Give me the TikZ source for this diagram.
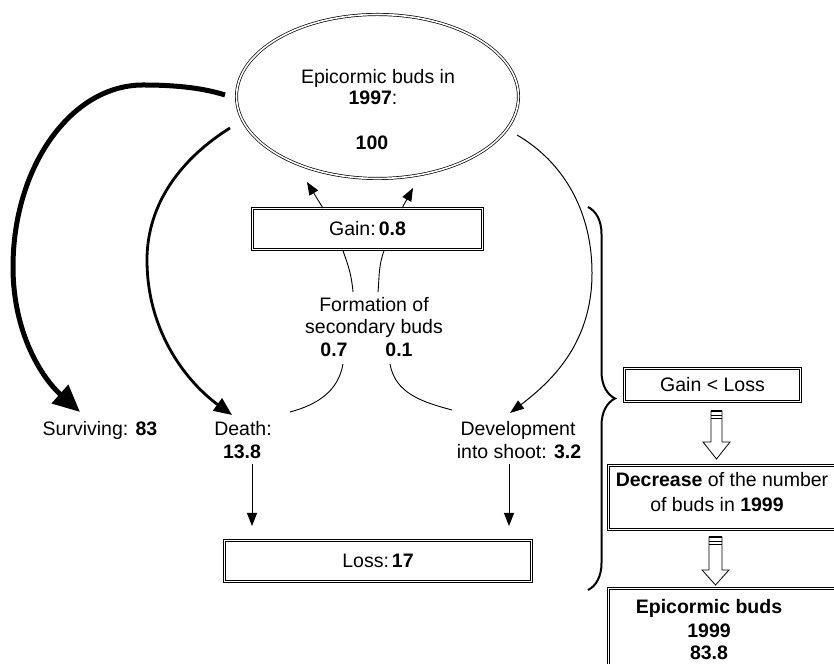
\documentclass[tikz,border=0pt]{standalone}
\usepackage{fontspec}
\setmainfont{Liberation Sans}
\usetikzlibrary{arrows.meta,calc,decorations.pathreplacing,shapes.geometric}
\begin{document}
\begin{tikzpicture}[x=1pt,y=1pt,
  font=\fontsize{19.5}{22.5}\selectfont,
  txt/.style={inner sep=0pt,text height=14pt,text depth=0pt},
  dline/.style={draw,line width=0.7pt,double,double distance=1.6pt},
  dbox/.style={dline,rectangle,inner sep=0pt,text height=14pt,text depth=0pt},
  thinarrow/.style={line width=0.9pt,-{Triangle[length=13pt,width=10pt]}},
  hollow/.style={draw,line width=0.8pt,fill=white},
]
\useasboundingbox (0,0) rectangle (834,663);

% top ellipse
\node[ellipse,dline,minimum width=282pt,minimum height=164pt,inner sep=0pt] (E) at (377.5,566.5) {};
\node[txt] (e1) at (378,586) {Epicormic buds in};
\node[txt] (e2) at (373,565) {\textbf{1997}:};
\node[txt] (e3) at (372,520) {\textbf{100}};

% gain / loss boxes
\node[dbox,minimum width=230pt,minimum height=41pt] (G) at (367.5,434) {Gain:\hspace{3pt}\textbf{0.8}};
\node[dbox,minimum width=307pt,minimum height=41pt] (L) at (378,102) {Loss:\hspace{3pt}\textbf{17}};

% labels
\node[txt] (surv) at (100,234) {Surviving: \textbf{83}};
\node[txt] (d1) at (243,234) {Death:};
\node[txt] (d2) at (242,211) {\textbf{13.8}};
\node[txt] (v1) at (518,234) {Development};
\node[txt] (v2) at (519,211) {into shoot: \textbf{3.2}};
\node[txt] (f1) at (374,358) {Formation of};
\node[txt] (f2) at (374,336) {secondary buds};
\node[txt] (n07) at (334,313) {\textbf{0.7}};
\node[txt] (n01) at (399,313) {\textbf{0.1}};

% right column
\node[dbox,minimum width=176pt,minimum height=33pt] (GL) at (712.5,278) {Gain < Loss};
\node[dbox,minimum width=231pt,minimum height=64pt] (DEC) at (724,165.5) {};
\node[txt] (dec1) at (722,183) {\textbf{Decrease} of the number};
\node[txt] (dec2) at (717,158) {of buds in \textbf{1999}};
\node[dbox,minimum width=231pt,minimum height=115pt] (B99) at (724,17) {};
\node[txt] (b1) at (709,56) {\textbf{Epicormic buds}};
\node[txt] (b2) at (709,33) {\textbf{1999}};
\node[txt] (b3) at (709,11) {\textbf{83.8}};

% coordinates for free ends
\coordinate (sS) at ($(E.center)+(-152.5,1.5)$);
\coordinate (sD) at ($(E.center)+(-147.5,-31.5)$);
\coordinate (sV) at ($(E.center)+(139.5,-38.5)$);
\coordinate (tS) at (80,251);
\coordinate (tD) at (232,248);
\coordinate (tV) at (510,250);
\coordinate (gA) at ($(G.north)+(-44.5,0)$);
\coordinate (gB) at ($(G.north)+(34.5,0)$);
\coordinate (gAt) at (307,481);
\coordinate (gBt) at (413,475);
\coordinate (fA) at (353,371);
\coordinate (fB) at (378,371);
\coordinate (fAt) at ($(G.south)+(-24.5,-1)$);
\coordinate (fBt) at ($(G.south)+(16.5,-1)$);
\coordinate (lA) at (343,299);
\coordinate (lAt) at (290,251);
\coordinate (lB) at (390,299);
\coordinate (lBt) at (452,253);
\coordinate (dA) at (252,199);
\coordinate (dB) at (252,137);
\coordinate (vA) at (509,199);
\coordinate (vB) at (509,137);
\coordinate (brT) at (588,456);
\coordinate (brB) at (588,73);

% surviving (thick)
\draw[line width=5pt,-{Triangle[length=27pt,width=24pt]}]
  (sS) .. controls (200,576) and (170,578) .. (143,578)
       .. controls (71,578) and (13,496) .. (13,396)
       .. controls (13,330) and (42,285) .. (tS);
% death
\draw[line width=2.8pt,-{Triangle[length=18pt,width=15pt]}]
  (sD) .. controls (182,505) and (147,460) .. (147,403)
       .. controls (147,330) and (188,280) .. (tD);
% development
\draw[line width=1pt,-{Triangle[length=14pt,width=10pt]}]
  (sV) .. controls (565,500) and (592,450) .. (592,390)
       .. controls (592,320) and (552,282) .. (tV);

% gain arrows
\draw[thinarrow] (gA) -- (gAt);
\draw[thinarrow] (gB) -- (gBt);
\draw[line width=0.9pt] (fA) to[out=95,in=-70] (fAt);
\draw[line width=0.9pt] (fB) to[out=85,in=-110] (fBt);
\draw[line width=0.9pt] (lA) to[out=-100,in=15] (lAt);
\draw[line width=0.9pt] (lB) to[out=-80,in=165] (lBt);

% loss arrows
\draw[thinarrow] (dA) -- (dB);
\draw[thinarrow] (vA) -- (vB);

% brace
\draw[line width=2pt,decorate,decoration={brace,amplitude=27pt}] (brT) -- (brB);

% hollow arrows
\draw[hollow] (711,252) -- (711,221) -- (703,221) -- (716.5,204) -- (730,221) -- (722,221) -- (722,252) -- cycle;
\draw[line width=2pt] (711,251.5) -- (722,251.5);
\draw[line width=0.8pt] (711,248) -- (722,248);
\draw[line width=0.8pt] (711,245) -- (722,245);
\draw[hollow] (709,126) -- (709,93) -- (702,93) -- (715.5,78) -- (729,93) -- (722,93) -- (722,126) -- cycle;
\draw[line width=2pt] (709,125.5) -- (722,125.5);
\draw[line width=0.8pt] (709,122) -- (722,122);
\draw[line width=0.8pt] (709,119) -- (722,119);
\end{tikzpicture}
\end{document}
